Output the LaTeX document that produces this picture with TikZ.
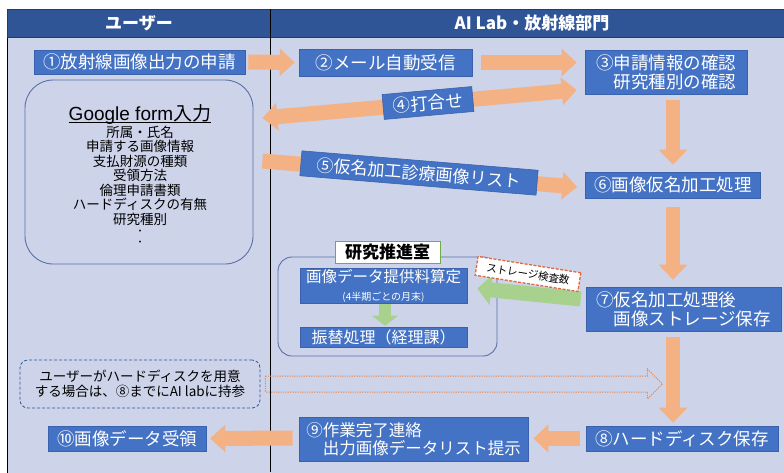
\documentclass[tikz,border=0pt]{standalone}
\usepackage{fontspec}
\setmainfont{Noto Sans CJK JP}
\newfontfamily\jp{Noto Sans CJK JP}
\newfontfamily\ar{Liberation Sans}
\usetikzlibrary{arrows.meta,calc}
\definecolor{bgc}{HTML}{CDD4EA}
\definecolor{hdr}{HTML}{2F5597}
\definecolor{boxb}{HTML}{4472C4}
\definecolor{boxe}{HTML}{3A62AC}
\definecolor{org}{HTML}{F4B183}
\definecolor{orgd}{HTML}{E8894F}
\definecolor{grn}{HTML}{A9D18E}
\definecolor{gfedge}{HTML}{5A6EA8}
\definecolor{grnedge}{HTML}{70AD47}
\definecolor{redd}{HTML}{E0693A}
\tikzset{
  bbox/.style={draw=boxe, line width=0.6pt, fill=boxb, text=white, inner sep=0pt,
    font=\jp\fontsize{17.5}{19}\selectfont},
  hdrtxt/.style={text=white, font=\jp\bfseries\fontsize{17}{18}\selectfont, inner sep=0pt},
  oarr/.style={draw=org, line width=15pt, -{Triangle[width=27pt,length=15pt]}},
  oarrb/.style={draw=org, line width=15pt, {Triangle[width=27pt,length=15pt]}-{Triangle[width=27pt,length=15pt]}},
  varr/.style={draw=org, line width=14pt, -{Triangle[width=28pt,length=15pt]}},
  garr/.style={draw=grn, line width=15pt, -{Triangle[width=30pt,length=14pt]}},
  garrs/.style={draw=grn, line width=12pt, -{Triangle[width=26pt,length=10pt]}},
  dotstyle/.style={inner sep=0pt, font=\jp\fontsize{9}{9}\selectfont},
}
\begin{document}
\begin{tikzpicture}[x=1pt,y=-1pt]
\useasboundingbox (0,0) rectangle (784,472);
% frame and header
\fill[white] (0,0) rectangle (784,472);
\draw[fill=bgc, line width=0.8pt] (7.5,9) rectangle (790,480);
\draw[fill=hdr, draw=hdr!70!black, line width=0.8pt] (7.5,9) rectangle (790,37);
\draw[line width=0.9pt, black] (270.5,9) -- (270.5,472);
\node[hdrtxt] (h1) at (139,23) {ユーザー};
\node[hdrtxt] (h2) at (532,23) {AI Lab・放射線部門};

% main boxes
\node[bbox, minimum width=211pt, minimum height=24pt] (n1) at (139.5,62) {①放射線画像出力の申請};
\node[bbox, minimum width=173pt, minimum height=27pt] (n2) at (385.5,62.5) {②メール自動受信};
\node[bbox, minimum width=162pt, minimum height=44pt, align=left] (n3) at (666,72) {③申請情報の確認\\\hspace*{1em}研究種別の確認};
\node[bbox, minimum width=175pt, minimum height=26pt] (n6) at (673,185) {⑥画像仮名加工処理};
\node[bbox, minimum width=195pt, minimum height=44pt, align=left] (n7) at (683.5,309) {⑦仮名加工処理後\\\hspace*{1em}画像ストレージ保存};
\node[bbox, minimum width=192pt, minimum height=25pt] (n8) at (682,438.5) {⑧ハードディスク保存};
\node[bbox, minimum width=229pt, minimum height=44pt, align=left, font=\jp\fontsize{16.5}{18.5}\selectfont] (n9) at (413.5,439) {⑨作業完了連絡\\\hspace*{1em}出力画像データリスト提示};
\node[bbox, minimum width=158pt, minimum height=25pt] (n10) at (127,438.5) {⑩画像データ受領};

% Google form box
\node[draw=gfedge, line width=0.9pt, rounded corners=28pt, minimum width=228pt, minimum height=184pt, inner sep=0pt] (gf) at (139,172) {};
\node[inner sep=0pt, anchor=base, font=\fontsize{19}{19}\selectfont] (gft) at (140,120) {\ar Google form\jp 入力};
\draw[line width=1pt] ($(gft.base west)+(0,2.5)$) -- ($(gft.base east)+(0,2.5)$);
\node[inner sep=0pt, align=center, font=\jp\fontsize{13.5}{14.5}\selectfont] (gfl) at (140,175.5) {所属・氏名\\申請する画像情報\\支払財源の種類\\受領方法\\倫理申請書類\\ハードディスクの有無\\研究種別};
\node[dotstyle] (d1) at (140,232) {・};
\node[dotstyle] (d2) at (140,243) {・};

% research office
\node[draw=gfedge, line width=0.9pt, rounded corners=14pt, minimum width=219pt, minimum height=99pt, inner sep=0pt] (cont) at (387.5,306.5) {};
\node[bbox, minimum width=167pt, minimum height=35pt, align=center] (a1) at (383.5,285.5) {{\fontsize{15.5}{16}\selectfont 画像データ提供料算定}\\[-1pt]{\fontsize{10}{11}\selectfont (4半期ごとの月末)}};
\node[bbox, minimum width=167pt, minimum height=20pt, font=\jp\fontsize{16}{17}\selectfont] (a2) at (383.5,337) {振替処理（経理課）};
\node[draw=grnedge, line width=0.9pt, fill=white, minimum width=105pt, minimum height=22pt, inner sep=0pt, font=\jp\bfseries\fontsize{17}{18}\selectfont] (lab) at (387.5,252) {研究推進室};

% dashed note box
\node[draw=hdr, dash pattern=on 3pt off 2pt, line width=0.8pt, rounded corners=8pt, minimum width=240pt, minimum height=48pt, align=center, inner sep=0pt, font=\jp\fontsize{13.5}{15}\selectfont] (hd) at (140,384) {ユーザーがハードディスクを用意\\する場合は、⑧までにAI labに持参};

% arrows
\draw[oarr] ($(n1.east)+(3,0)$) -- ($(n2.west)+(-4,0)$);
\draw[oarr] ($(n2.east)+(9,0)$) -- ($(n2.east -| n3.west)+(-8,0)$);
\draw[oarrb] ($(gf.east)+(9,-54)$) -- ($(n3.west)+(-8,18)$);
\draw[oarr] ($(gf.east)+(9,-11)$) -- ($(n6.west)+(-8,2)$);
\draw[varr] ($(n6.north |- n3.south)+(0,6)$) -- ($(n6.north)+(0,-7)$);
\draw[varr] ($(n6.south)+(0,9)$) -- ($(n6.south |- n7.north)+(0,-7)$);
\draw[varr] ($(n6.south |- n7.south)+(0,6)$) -- ($(n6.south |- n8.north)+(0,-3)$);
\draw[oarr] ($(n8.west)+(-6,0)$) -- ($(n8.west -| n9.east)+(5,0)$);
\draw[oarr] ($(n9.west)+(-6,-1)$) -- ($(n10.east)+(4,0)$);
\draw[garr] ($(n7.west)+(-5,-10)$) -- ($(a1.east)+(10,3)$);
\draw[garrs] ($(a1.south)+(1.5,1)$) -- ($(a2.north)+(1.5,-1)$);
% dotted outline arrow
\draw[orgd, line width=1pt, dash pattern=on 1.2pt off 1.2pt] ($(hd.east)+(5,-8)$) coordinate (da) -- ++(382,0) -- ++(0,-7) -- ++(15,15) -- ++(-15,15) -- ++(0,-7) -- ++(-382,0) -- cycle;

% arrow labels
\node[bbox, rotate=5.1, minimum width=90pt, minimum height=25pt] (l4) at (428,103) {④打合せ};
\node[bbox, rotate=-4.7, minimum width=237pt, minimum height=25pt, font=\jp\fontsize{17}{18}\selectfont] (l5) at (419,173) {⑤仮名加工診療画像リスト};
\node[draw=redd, fill=white, dash pattern=on 3pt off 1.5pt, line width=1.3pt, rotate=-9, minimum width=104pt, minimum height=19pt, inner sep=0pt, font=\jp\fontsize{10.5}{11}\selectfont] (st) at (528,274) {ストレージ検査数};
\end{tikzpicture}
\end{document}
